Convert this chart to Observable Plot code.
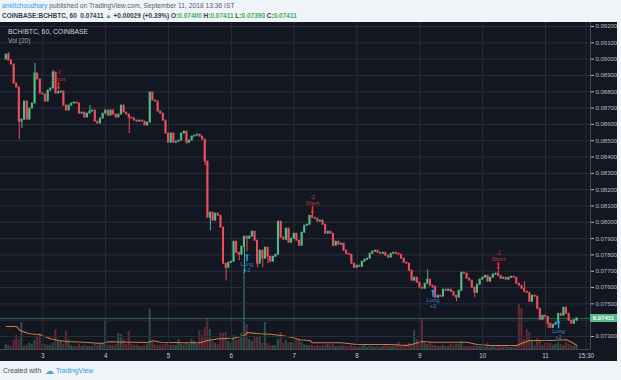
<!DOCTYPE html>
<html><head><meta charset="utf-8">
<script src="https://cdn.jsdelivr.net/npm/d3@7"></script>
<script src="https://cdn.jsdelivr.net/npm/@observablehq/plot@0.6"></script>
<style>
body{margin:0;width:621px;height:380px;background:#f0f3f8;font-family:"Liberation Sans",Arial,sans-serif;overflow:hidden;position:relative}
.hd{position:absolute;left:2px;white-space:nowrap}
#h1{top:2px;font-size:6.7px;color:#5d606b}
#h1 .u{color:#3a9fdc}
#h2{top:11.5px;font-size:6.5px;font-weight:bold;color:#3a3d46}
.g{color:#3fae5a}
#chart{position:absolute;left:0;top:22px;width:617px;height:339px;background:#131722;overflow:hidden}
#chart svg{position:absolute;left:0;top:0}
#title{position:absolute;left:8px;top:6px;font-size:6.8px;color:#d1d4dc}
#vol{position:absolute;left:8px;top:14.5px;font-size:6.5px;color:#a3a6af}
.ln{position:absolute;background:#434855}
#plabel{position:absolute;left:590px;width:27px;height:8px;line-height:8px;background:#53b987;color:#fff;font-size:6px;text-align:center;font-weight:bold}
#foot{position:absolute;left:3px;top:366px;font-size:6.8px;color:#4a4d56;white-space:nowrap}
#foot .tv{color:#2e9be0}
#foot .cl{color:#41a6e6;font-size:9px;font-family:"DejaVu Sans";vertical-align:-1px}
</style></head>
<body>
<div id="h1" class="hd"><span class="u">ankitchoudhary</span> published on TradingView.com, September 11, 2018 13:36 IST</div>
<div id="h2" class="hd">COINBASE:BCHBTC, 60&nbsp; 0.07411 <span class="g">▲</span> +0.00029 (+0.39%) O:<span class="g">0.07400</span> H:<span class="g">0.07411</span> L:<span class="g">0.07390</span> C:<span class="g">0.07411</span></div>
<div id="chart">
  <div id="title">BCH/BTC, 60, COINBASE</div>
  <div id="vol">Vol (20)</div>
</div>
<div id="foot">Created with &nbsp;<span class="cl">☁</span> <span class="tv">TradingView</span></div>
<script>
// ---------- data ----------
const firstCandleUTC = Date.UTC(2018, 8, 2, 10); // hourly candles
const firstOpen = 0.08998;
const closes = [
0.09028,0.08991,0.08967,0.08850,0.08826,0.08617,0.08629,0.08740,0.08629,0.08697,
0.08728,0.08912,0.08875,0.08789,0.08783,0.08740,0.08807,0.08820,0.08918,0.08789,
0.08795,0.08801,0.08715,0.08685,0.08715,0.08728,0.08734,0.08728,0.08666,0.08672,
0.08642,0.08666,0.08679,0.08685,0.08617,0.08605,0.08636,0.08666,0.08685,0.08654,
0.08685,0.08660,0.08642,0.08660,0.08715,0.08672,0.08660,0.08642,0.08636,0.08623,
0.08617,0.08623,0.08617,0.08593,0.08611,0.08795,0.08746,0.08740,0.08679,0.08666,
0.08623,0.08544,0.08488,0.08544,0.08488,0.08494,0.08501,0.08544,0.08556,0.08488,
0.08501,0.08525,0.08531,0.08537,0.08525,0.08507,0.08372,0.08028,0.08059,0.08010,
0.08053,0.08040,0.07967,0.07746,0.07721,0.07752,0.07758,0.07881,0.07813,0.07801,
0.07850,0.07912,0.07899,0.07912,0.07942,0.07887,0.07746,0.07826,0.07777,0.07844,
0.07789,0.07758,0.07789,0.07801,0.08004,0.07906,0.07893,0.07961,0.07875,0.07899,
0.07930,0.07887,0.07856,0.07936,0.07979,0.07985,0.08040,0.08028,0.08022,0.08004,
0.08010,0.07985,0.07930,0.07942,0.07930,0.07856,0.07881,0.07863,0.07869,0.07826,
0.07807,0.07801,0.07746,0.07721,0.07734,0.07727,0.07758,0.07770,0.07777,0.07807,
0.07820,0.07826,0.07813,0.07807,0.07813,0.07795,0.07783,0.07807,0.07813,0.07807,
0.07801,0.07777,0.07752,0.07746,0.07703,0.07642,0.07660,0.07630,0.07599,0.07593,
0.07623,0.07648,0.07611,0.07605,0.07538,0.07550,0.07544,0.07587,0.07580,0.07587,
0.07574,0.07550,0.07538,0.07580,0.07691,0.07685,0.07654,0.07642,0.07599,0.07568,
0.07617,0.07648,0.07660,0.07672,0.07636,0.07660,0.07679,0.07685,0.07672,0.07654,
0.07660,0.07648,0.07660,0.07666,0.07660,0.07623,0.07611,0.07593,0.07574,0.07568,
0.07513,0.07550,0.07544,0.07470,0.07402,0.07427,0.07421,0.07378,0.07353,0.07372,
0.07384,0.07439,0.07427,0.07476,0.07439,0.07396,0.07378,0.07400,0.07411];
// visible wick extremes [candle index, price]
const wickHighs = [[1,0.09040],[11,0.08973],[18,0.08930],[32,0.08715],[117,0.08065],[161,0.07709],[188,0.07703],[198,0.07636],[20,0.08807]];
const wickLows = [[5,0.08507],[6,0.08574],[47,0.08544],[69,0.08476],[76,0.08347],[78,0.07948],[84,0.07642],[89,0.07764],[91,0.07685],[92,0.07820],[96,0.07721],[98,0.07721],[100,0.07746],[163,0.07593],[172,0.07513],[179,0.07538],[207,0.07347],[211,0.07409],[218,0.07390]];
const volumes = [
50,40,30,90,140,100,270,30,40,60, 50,90,120,160,50,50,40,40,60,200,
80,80,50,180,100,40,30,30,50,30, 40,30,30,30,50,40,60,60,280,40,
40,40,50,160,150,100,50,180,50,40, 40,30,30,40,50,400,70,40,40,40,
50,50,60,40,40,40,100,50,40,60, 50,100,80,50,190,140,220,310,200,80,
60,50,160,160,170,80,60,140,90,100, 160,800,250,100,80,120,120,120,60,270,
60,40,40,40,100,170,60,90,60,70, 60,90,100,70,50,40,40,40,30,40,
30,40,40,50,40,50,30,30,30,40, 30,30,40,30,20,20,30,40,20,30,
30,20,30,20,30,40,30,30,30,40, 70,30,40,50,60,50,190,100,80,300,
60,50,70,40,40,30,30,40,30,30, 50,40,50,50,80,30,30,30,30,40,
30,30,30,20,60,20,30,20,30,30, 20,30,20,20,30,40,450,410,100,200,
170,80,40,110,80,40,60,60,60,40, 50,70,50,40,70,50,40,30,30];
// Vol (20) moving average [candle index, value]
const volMA = [[0,230],[4,230],[5,197],[6,183],[9,157],[13,147],[17,107],[20,90],[23,80],[30,73],[35,63],[37,63],[39,77],[54,70],[56,87],[59,73],[68,67],[74,67],[77,90],[81,107],[87,113],[91,140],[92,170],[97,157],[101,153],[105,140],[109,123],[112,97],[116,90],[117,67],[128,67],[134,50],[147,50],[153,40],[156,57],[159,80],[163,73],[176,73],[180,50],[185,40],[195,40],[198,73],[200,90],[208,90],[214,97],[216,73],[218,40]];
// strategy signals
const signalIdx = [20, 92, 117, 163, 188, 211];
const signalSide = ["short","long","short","long","short","long"];
const signalPrice = [0.08820, 0.07801, 0.08059, 0.07583, 0.07715, 0.07390];
const signalQty = ["-2","+2","-2","+2","-2","+2"];
const priceTicks = [0.073,0.074,0.075,0.076,0.077,0.078,0.079,0.080,0.081,0.082,0.083,0.084,0.085,0.086,0.087,0.088,0.089,0.090,0.091,0.092];
const priceLabelTicks = priceTicks.filter(v => Math.abs(v - 0.074) > 1e-9);
const timeTicks = [3,4,5,6,7,8,9,10,11].map(d => new Date(Date.UTC(2018,8,d))).concat([new Date(Date.UTC(2018,8,11,15,30))]);
const xDomain = [new Date(Date.UTC(2018,8,2,7,50)), new Date(Date.UTC(2018,8,11,17,11))];
const yDomain = [0.072203, 0.092245];

// ---------- build ----------
const UP = "#53b987", DOWN = "#eb4d5c", GRID = "#2a2e3a", AXIS = "#b8bbc3";
const tAt = i => new Date(firstCandleUTC + i * 3600e3);
const hiMap = new Map(wickHighs), loMap = new Map(wickLows);
const candles = closes.map((c, i) => {
  const o = i === 0 ? firstOpen : closes[i - 1];
  const hi = Math.max(o, c, hiMap.has(i) ? hiMap.get(i) : -Infinity);
  const lo = Math.min(o, c, loMap.has(i) ? loMap.get(i) : Infinity);
  return {t: tAt(i), o, c, hi, lo, v: volumes[i], up: c >= o};
});
const signals = signalIdx.map((i, k) => ({t: tAt(i), p: signalPrice[k], side: signalSide[k], qty: signalQty[k]}));
const shorts = signals.filter(d => d.side === "short"), longs = signals.filter(d => d.side === "long");
const lastClose = closes[closes.length - 1];

const W = 617, H = 339, MB = 12, MR = 27;
const bx1 = d => d3.utcMinute.offset(d.t, -23), bx2 = d => d3.utcMinute.offset(d.t, 23);

const volPlot = Plot.plot({
  width: W, height: H, marginTop: 0, marginBottom: MB, marginLeft: 0, marginRight: MR,
  x: {type: "utc", domain: xDomain, axis: null},
  y: {domain: [0, 3270], axis: null},
  style: {background: "transparent"},
  marks: [
    Plot.rect(candles, {x1: bx1, x2: bx2, y1: 0, y2: "v", fill: d => d.up ? UP : DOWN, fillOpacity: 0.36}),
    Plot.line(volMA, {x: d => tAt(d[0]), y: d => d[1], stroke: "#d07a3a", strokeWidth: 1.1})
  ]
});

const main = Plot.plot({
  width: W, height: H, marginTop: 0, marginBottom: MB, marginLeft: 0, marginRight: MR,
  x: {type: "utc", domain: xDomain},
  y: {domain: yDomain},
  style: {background: "transparent", fontFamily: "Liberation Sans, Arial, sans-serif"},
  marks: [
    Plot.ruleY(priceTicks, {stroke: GRID, strokeWidth: 1}),
    Plot.ruleX(timeTicks, {stroke: GRID, strokeWidth: 1}),
    Plot.axisY({ticks: priceLabelTicks, anchor: "right", label: null, tickFormat: d3.format(".5f"), tickSize: 3, tickPadding: 2, fontSize: 6, color: AXIS}),
    Plot.axisX({ticks: timeTicks, label: null, tickFormat: d => d.getUTCHours() === 15 ? "15:30" : String(d.getUTCDate()), tickSize: 0, tickPadding: 4, fontSize: 6.3, color: "#c9ccd3"}),
    Plot.ruleY([lastClose], {stroke: UP, strokeOpacity: 0.55, strokeWidth: 0.8}),
    Plot.ruleX(candles, {x: "t", y1: "lo", y2: "hi", stroke: d => d.up ? UP : DOWN, strokeWidth: 1}),
    Plot.rect(candles, {x1: bx1, x2: bx2, y1: "o", y2: "c", fill: d => d.up ? UP : DOWN, insetTop: -0.5, insetBottom: -0.5}),
    Plot.vector(shorts, {x: "t", y: "p", length: 6, rotate: 180, anchor: "end", shape: "arrow", r: 2.2, stroke: "#ff2b2b", strokeWidth: 1.6}),
    Plot.vector(longs, {x: "t", y: "p", length: 6, rotate: 0, anchor: "end", shape: "arrow", r: 2.2, stroke: "#2196f3", strokeWidth: 1.6}),
    Plot.text(shorts, {x: "t", y: "p", text: () => "Short", dy: -9.5, fontSize: 5.8, fill: "#c6363a"}),
    Plot.text(shorts, {x: "t", y: "p", text: "qty", dy: -16, fontSize: 5.8, fill: "#c6363a"}),
    Plot.text(longs, {x: "t", y: "p", text: () => "Long", dy: 9.5, fontSize: 5.8, fill: "#2f86d6"}),
    Plot.text(longs, {x: "t", y: "p", text: "qty", dy: 15.5, fontSize: 5.8, fill: "#2f86d6"})
  ]
});

const chart = document.getElementById("chart");
chart.insertBefore(volPlot, chart.firstChild);
chart.insertBefore(main, volPlot.nextSibling);
// frame lines of the price pane
const vline = document.createElement("div"); vline.className = "ln";
Object.assign(vline.style, {left: (W - MR) + "px", top: "0px", width: "1px", height: (H - MB) + "px"});
const hline = document.createElement("div"); hline.className = "ln";
Object.assign(hline.style, {left: "0px", top: (H - MB) + "px", width: (W - MR) + "px", height: "1px"});
chart.appendChild(vline); chart.appendChild(hline);
// last price label on the price axis
const py = main.scale("y").apply(lastClose);
const lab = document.createElement("div"); lab.id = "plabel";
lab.textContent = d3.format(".5f")(lastClose);
lab.style.top = (py - 4) + "px";
chart.appendChild(lab);
</script>
</body></html>
